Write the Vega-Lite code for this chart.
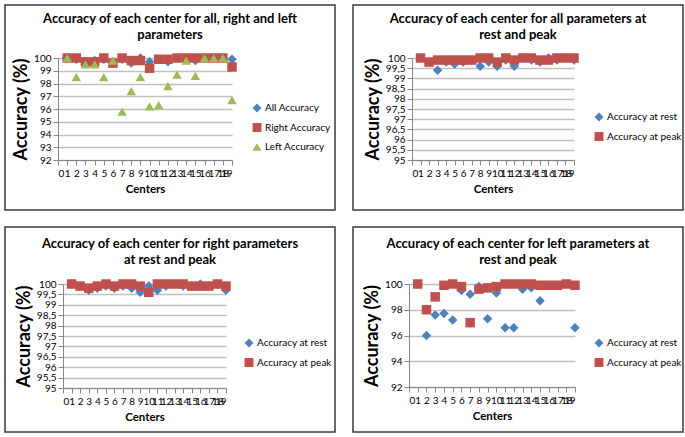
{
  "$schema": "https://vega.github.io/schema/vega-lite/v6.json",
  "padding": {"left": 4, "top": 4, "right": 2, "bottom": 2},
  "background": "white",
  "datasets": {
    "p1": [
      {"c": 1, "All Accuracy": 100, "Right Accuracy": 100, "Left Accuracy": 100},
      {"c": 2, "All Accuracy": 99.9, "Right Accuracy": 100, "Left Accuracy": 98.5},
      {"c": 3, "All Accuracy": 99.7, "Right Accuracy": 99.7, "Left Accuracy": 99.5},
      {"c": 4, "All Accuracy": 99.8, "Right Accuracy": 99.7, "Left Accuracy": 99.5},
      {"c": 5, "All Accuracy": 99.9, "Right Accuracy": 100, "Left Accuracy": 98.5},
      {"c": 6, "All Accuracy": 99.7, "Right Accuracy": 99.6, "Left Accuracy": 99.8},
      {"c": 7, "All Accuracy": 99.9, "Right Accuracy": 100, "Left Accuracy": 95.8},
      {"c": 8, "All Accuracy": 99.6, "Right Accuracy": 99.8, "Left Accuracy": 97.4},
      {"c": 9, "All Accuracy": 100, "Right Accuracy": 99.8, "Left Accuracy": 98.5},
      {"c": 10, "All Accuracy": 99.7, "Right Accuracy": 99.2, "Left Accuracy": 96.2},
      {"c": 11, "All Accuracy": 99.9, "Right Accuracy": 99.9, "Left Accuracy": 96.3},
      {"c": 12, "All Accuracy": 99.7, "Right Accuracy": 99.9, "Left Accuracy": 97.8},
      {"c": 13, "All Accuracy": 100, "Right Accuracy": 100, "Left Accuracy": 98.7},
      {"c": 14, "All Accuracy": 99.9, "Right Accuracy": 100, "Left Accuracy": 99.8},
      {"c": 15, "All Accuracy": 99.8, "Right Accuracy": 100, "Left Accuracy": 98.6},
      {"c": 16, "All Accuracy": 100, "Right Accuracy": 100, "Left Accuracy": 100},
      {"c": 17, "All Accuracy": 100, "Right Accuracy": 100, "Left Accuracy": 100},
      {"c": 18, "All Accuracy": 100, "Right Accuracy": 100, "Left Accuracy": 100},
      {"c": 19, "All Accuracy": 99.9, "Right Accuracy": 99.3, "Left Accuracy": 96.7}
    ],
    "p2": [
      {"c": 1, "Accuracy at rest": 100, "Accuracy at peak": 100},
      {"c": 2, "Accuracy at rest": 99.8, "Accuracy at peak": 99.8},
      {"c": 3, "Accuracy at rest": 99.4, "Accuracy at peak": 99.9},
      {"c": 4, "Accuracy at rest": 99.8, "Accuracy at peak": 99.9},
      {"c": 5, "Accuracy at rest": 99.7, "Accuracy at peak": 99.9},
      {"c": 6, "Accuracy at rest": 99.8, "Accuracy at peak": 99.9},
      {"c": 7, "Accuracy at rest": 99.9, "Accuracy at peak": 99.9},
      {"c": 8, "Accuracy at rest": 99.6, "Accuracy at peak": 100},
      {"c": 9, "Accuracy at rest": 99.8, "Accuracy at peak": 100},
      {"c": 10, "Accuracy at rest": 99.6, "Accuracy at peak": 99.8},
      {"c": 11, "Accuracy at rest": 99.9, "Accuracy at peak": 100},
      {"c": 12, "Accuracy at rest": 99.6, "Accuracy at peak": 99.9},
      {"c": 13, "Accuracy at rest": 100, "Accuracy at peak": 100},
      {"c": 14, "Accuracy at rest": 99.9, "Accuracy at peak": 100},
      {"c": 15, "Accuracy at rest": 99.8, "Accuracy at peak": 99.9},
      {"c": 16, "Accuracy at rest": 100, "Accuracy at peak": 99.9},
      {"c": 17, "Accuracy at rest": 99.9, "Accuracy at peak": 100},
      {"c": 18, "Accuracy at rest": 100, "Accuracy at peak": 100},
      {"c": 19, "Accuracy at rest": 99.9, "Accuracy at peak": 100}
    ],
    "p3": [
      {"c": 1, "Accuracy at rest": 100, "Accuracy at peak": 100},
      {"c": 2, "Accuracy at rest": 99.9, "Accuracy at peak": 99.9},
      {"c": 3, "Accuracy at rest": 99.7, "Accuracy at peak": 99.8},
      {"c": 4, "Accuracy at rest": 99.8, "Accuracy at peak": 99.9},
      {"c": 5, "Accuracy at rest": 99.9, "Accuracy at peak": 100},
      {"c": 6, "Accuracy at rest": 99.8, "Accuracy at peak": 99.9},
      {"c": 7, "Accuracy at rest": 99.9, "Accuracy at peak": 100},
      {"c": 8, "Accuracy at rest": 99.8, "Accuracy at peak": 100},
      {"c": 9, "Accuracy at rest": 99.6, "Accuracy at peak": 99.9},
      {"c": 10, "Accuracy at rest": 99.9, "Accuracy at peak": 99.6},
      {"c": 11, "Accuracy at rest": 99.7, "Accuracy at peak": 100},
      {"c": 12, "Accuracy at rest": 99.9, "Accuracy at peak": 100},
      {"c": 13, "Accuracy at rest": 100, "Accuracy at peak": 100},
      {"c": 14, "Accuracy at rest": 99.9, "Accuracy at peak": 100},
      {"c": 15, "Accuracy at rest": 99.9, "Accuracy at peak": 99.9},
      {"c": 16, "Accuracy at rest": 100, "Accuracy at peak": 99.9},
      {"c": 17, "Accuracy at rest": 99.9, "Accuracy at peak": 99.9},
      {"c": 18, "Accuracy at rest": 100, "Accuracy at peak": 100},
      {"c": 19, "Accuracy at rest": 99.7, "Accuracy at peak": 99.9}
    ],
    "p4": [
      {"c": 1, "Accuracy at rest": 100, "Accuracy at peak": 100},
      {"c": 2, "Accuracy at rest": 96.0, "Accuracy at peak": 98.0},
      {"c": 3, "Accuracy at rest": 97.6, "Accuracy at peak": 99.0},
      {"c": 4, "Accuracy at rest": 97.7, "Accuracy at peak": 99.9},
      {"c": 5, "Accuracy at rest": 97.2, "Accuracy at peak": 100},
      {"c": 6, "Accuracy at rest": 99.5, "Accuracy at peak": 99.8},
      {"c": 7, "Accuracy at rest": 99.2, "Accuracy at peak": 97.0},
      {"c": 8, "Accuracy at rest": 99.8, "Accuracy at peak": 99.6},
      {"c": 9, "Accuracy at rest": 97.3, "Accuracy at peak": 99.7},
      {"c": 10, "Accuracy at rest": 99.3, "Accuracy at peak": 99.8},
      {"c": 11, "Accuracy at rest": 96.6, "Accuracy at peak": 100},
      {"c": 12, "Accuracy at rest": 96.6, "Accuracy at peak": 100},
      {"c": 13, "Accuracy at rest": 99.6, "Accuracy at peak": 100},
      {"c": 14, "Accuracy at rest": 99.7, "Accuracy at peak": 100},
      {"c": 15, "Accuracy at rest": 98.7, "Accuracy at peak": 99.9},
      {"c": 16, "Accuracy at rest": 99.9, "Accuracy at peak": 99.9},
      {"c": 17, "Accuracy at rest": 99.9, "Accuracy at peak": 99.9},
      {"c": 18, "Accuracy at rest": 100, "Accuracy at peak": 100},
      {"c": 19, "Accuracy at rest": 96.6, "Accuracy at peak": 99.9}
    ]
  },
  "vconcat": [
    {
      "hconcat": [
        {
          "width": 330, "height": 205,
          "data": {"name": "p1"},
          "transform": [{"fold": ["All Accuracy", "Right Accuracy", "Left Accuracy"], "as": ["series", "value"]}],
          "title": {"text": ["Accuracy of each center for all, right and left", "parameters"], "offset": -37},
          "mark": {"type": "point", "filled": true, "size": 90, "opacity": 1},
          "encoding": {
            "x": {"field": "c", "type": "quantitative",
                  "scale": {"domain": [0, 19], "range": [53, 227], "nice": false, "zero": false},
                  "axis": {"title": "Centers", "offset": -50, "grid": false, "labelOverlap": false, "values": [0,1,2,3,4,5,6,7,8,9,10,11,12,13,14,15,16,17,18,19]}},
            "y": {"field": "value", "type": "quantitative",
                  "scale": {"domain": [92, 100], "range": [155, 53], "nice": false, "zero": false},
                  "axis": {"title": "Accuracy (%)", "offset": -53, "grid": true, "values": [92,93,94,95,96,97,98,99,100]}},
            "color": {"field": "series", "type": "nominal",
                      "scale": {"domain": ["All Accuracy", "Right Accuracy", "Left Accuracy"], "range": ["#4f81bd", "#c0504d", "#9bbb59"]},
                      "legend": {"orient": "none", "legendX": 247, "legendY": 98, "title": null}},
            "shape": {"field": "series", "type": "nominal",
                      "scale": {"domain": ["All Accuracy", "Right Accuracy", "Left Accuracy"], "range": ["diamond", "square", "triangle-up"]},
                      "legend": {"orient": "none", "legendX": 247, "legendY": 98, "title": null}}
          }
        },
        {
          "width": 330, "height": 205,
          "data": {"name": "p2"},
          "transform": [{"fold": ["Accuracy at rest", "Accuracy at peak"], "as": ["series", "value"]}],
          "title": {"text": ["Accuracy of each center for all parameters at", "rest and peak"], "offset": -37},
          "mark": {"type": "point", "filled": true, "size": 90, "opacity": 1},
          "encoding": {
            "x": {"field": "c", "type": "quantitative",
                  "scale": {"domain": [0, 19], "range": [59, 221], "nice": false, "zero": false},
                  "axis": {"title": "Centers", "offset": -50, "grid": false, "labelOverlap": false, "values": [0,1,2,3,4,5,6,7,8,9,10,11,12,13,14,15,16,17,18,19]}},
            "y": {"field": "value", "type": "quantitative",
                  "scale": {"domain": [95, 100], "range": [155, 53], "nice": false, "zero": false},
                  "axis": {"title": "Accuracy (%)", "offset": -59, "grid": true, "values": [95,95.5,96,96.5,97,97.5,98,98.5,99,99.5,100], "labelExpr": "replace(format(datum.value, '.1~f'), '.', ',')"}},
            "color": {"field": "series", "type": "nominal",
                      "scale": {"domain": ["Accuracy at rest", "Accuracy at peak"], "range": ["#4f81bd", "#c0504d"]},
                      "legend": {"orient": "none", "legendX": 241, "legendY": 107, "title": null}},
            "shape": {"field": "series", "type": "nominal",
                      "scale": {"domain": ["Accuracy at rest", "Accuracy at peak"], "range": ["diamond", "square"]},
                      "legend": {"orient": "none", "legendX": 241, "legendY": 107, "title": null}}
          }
        }
      ],
      "spacing": 18,
      "bounds": "flush",
      "resolve": {"scale": {"color": "independent", "shape": "independent"}, "legend": {"color": "independent", "shape": "independent"}}
    },
    {
      "hconcat": [
        {
          "width": 330, "height": 205,
          "data": {"name": "p3"},
          "transform": [{"fold": ["Accuracy at rest", "Accuracy at peak"], "as": ["series", "value"]}],
          "title": {"text": ["Accuracy of each center for right parameters", "at rest and peak"], "offset": -40},
          "mark": {"type": "point", "filled": true, "size": 90, "opacity": 1},
          "encoding": {
            "x": {"field": "c", "type": "quantitative",
                  "scale": {"domain": [0, 19], "range": [58, 221], "nice": false, "zero": false},
                  "axis": {"title": "Centers", "offset": -44, "grid": false, "labelOverlap": false, "values": [0,1,2,3,4,5,6,7,8,9,10,11,12,13,14,15,16,17,18,19]}},
            "y": {"field": "value", "type": "quantitative",
                  "scale": {"domain": [95, 100], "range": [161, 57], "nice": false, "zero": false},
                  "axis": {"title": "Accuracy (%)", "offset": -58, "grid": true, "values": [95,95.5,96,96.5,97,97.5,98,98.5,99,99.5,100], "labelExpr": "replace(format(datum.value, '.1~f'), '.', ',')"}},
            "color": {"field": "series", "type": "nominal",
                      "scale": {"domain": ["Accuracy at rest", "Accuracy at peak"], "range": ["#4f81bd", "#c0504d"]},
                      "legend": {"orient": "none", "legendX": 239, "legendY": 111, "title": null}},
            "shape": {"field": "series", "type": "nominal",
                      "scale": {"domain": ["Accuracy at rest", "Accuracy at peak"], "range": ["diamond", "square"]},
                      "legend": {"orient": "none", "legendX": 239, "legendY": 111, "title": null}}
          }
        },
        {
          "width": 330, "height": 205,
          "data": {"name": "p4"},
          "transform": [{"fold": ["Accuracy at rest", "Accuracy at peak"], "as": ["series", "value"]}],
          "title": {"text": ["Accuracy of each center for left parameters at", "rest and peak"], "offset": -40},
          "mark": {"type": "point", "filled": true, "size": 90, "opacity": 1},
          "encoding": {
            "x": {"field": "c", "type": "quantitative",
                  "scale": {"domain": [0, 19], "range": [56, 222], "nice": false, "zero": false},
                  "axis": {"title": "Centers", "offset": -45, "grid": false, "labelOverlap": false, "values": [0,1,2,3,4,5,6,7,8,9,10,11,12,13,14,15,16,17,18,19]}},
            "y": {"field": "value", "type": "quantitative",
                  "scale": {"domain": [92, 100], "range": [160, 57], "nice": false, "zero": false},
                  "axis": {"title": "Accuracy (%)", "offset": -56, "grid": true, "values": [92,94,96,98,100]}},
            "color": {"field": "series", "type": "nominal",
                      "scale": {"domain": ["Accuracy at rest", "Accuracy at peak"], "range": ["#4f81bd", "#c0504d"]},
                      "legend": {"orient": "none", "legendX": 241, "legendY": 111, "title": null}},
            "shape": {"field": "series", "type": "nominal",
                      "scale": {"domain": ["Accuracy at rest", "Accuracy at peak"], "range": ["diamond", "square"]},
                      "legend": {"orient": "none", "legendX": 241, "legendY": 111, "title": null}}
          }
        }
      ],
      "spacing": 18,
      "bounds": "flush",
      "resolve": {"scale": {"color": "independent", "shape": "independent"}, "legend": {"color": "independent", "shape": "independent"}}
    }
  ],
  "spacing": 15,
  "resolve": {"scale": {"color": "independent", "shape": "independent"}, "legend": {"color": "independent", "shape": "independent"}},
  "config": {
    "font": "Lato",
    "view": {"stroke": "#3a3a3a", "strokeWidth": 1.5},
    "title": {"fontSize": 13, "fontWeight": "bold", "color": "#000", "lineHeight": 16, "anchor": "middle", "frame": "group"},
    "axis": {"labelFontSize": 10, "labelColor": "#000", "titleColor": "#000", "titleFontWeight": "bold", "domainColor": "#868686", "tickColor": "#868686", "gridColor": "#c0c0c0", "gridWidth": 1.3, "tickSize": 5, "labelPadding": 2},
    "axisY": {"titleFontSize": 18, "titlePadding": 3},
    "axisX": {"titleFontSize": 11.5, "labelAngle": 0, "labelPadding": 3, "titlePadding": 5},
    "legend": {"labelFontSize": 10, "labelColor": "#000", "symbolSize": 80, "rowPadding": 9.5, "labelOffset": 3, "symbolStrokeWidth": 0, "labelLimit": 200}
  }
}
